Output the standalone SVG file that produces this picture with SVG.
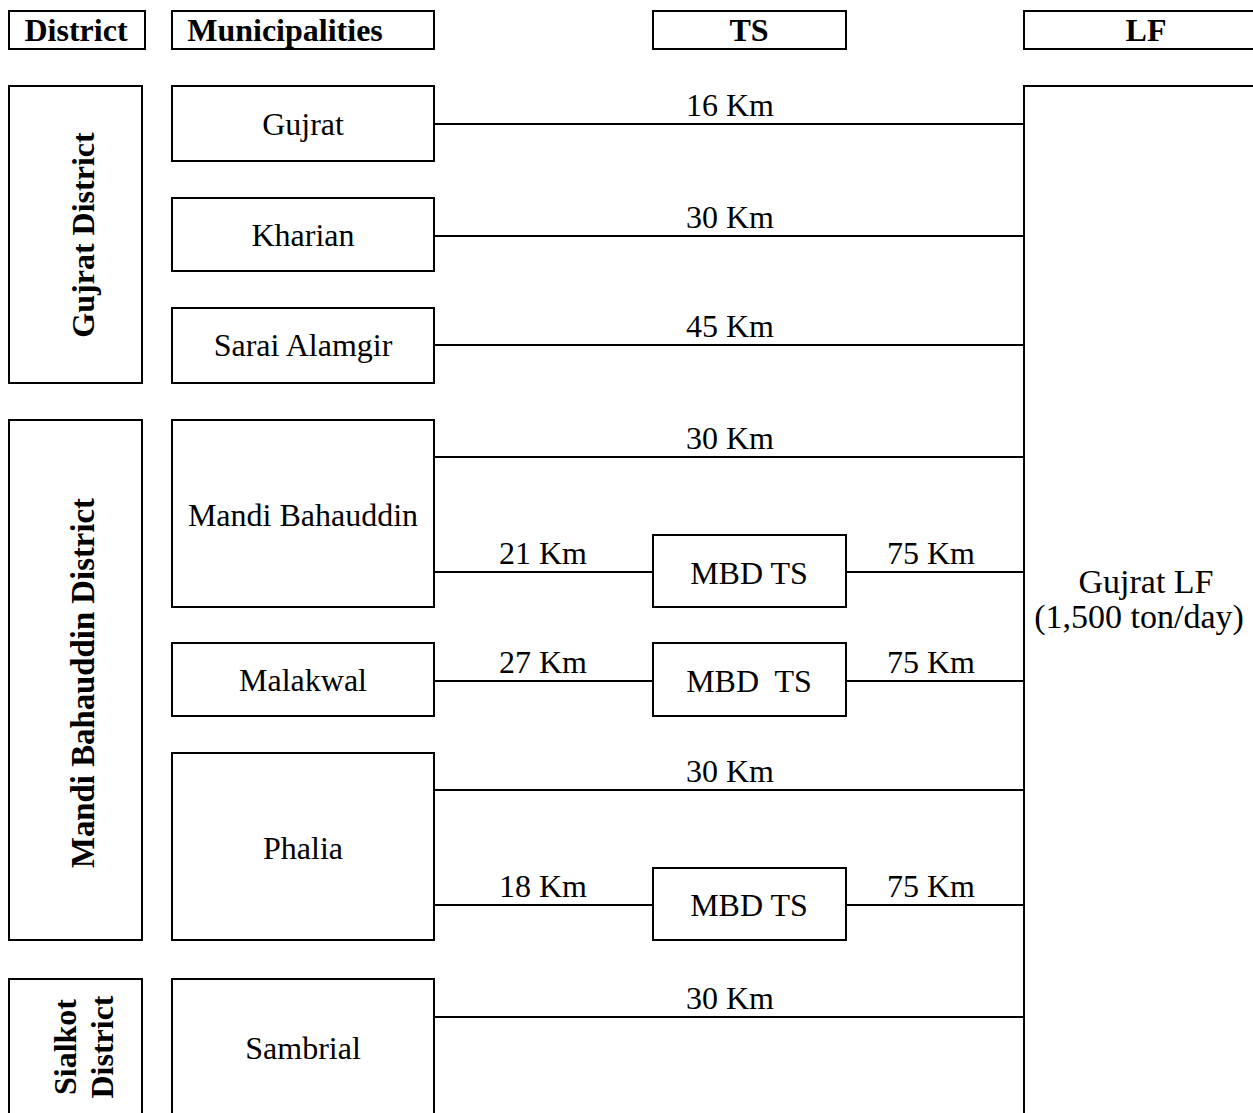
<svg xmlns="http://www.w3.org/2000/svg" width="1253" height="1113" viewBox="0 0 1253 1113">
<style>
rect{fill:#fff;stroke:#000;stroke-width:2}
line{stroke:#000;stroke-width:2}
text{font-family:"Liberation Serif","Times New Roman",serif;font-size:32px;fill:#000;text-anchor:middle}
.b{font-weight:bold}
.lf{font-size:34px}
</style>
<rect width="1253" height="1113" style="stroke:none"/>
<g id="hdr-district"><rect x="9" y="11" width="136" height="38"/><text class="b" x="76" y="41">District</text></g>
<g id="hdr-municipalities"><rect x="172" y="11" width="262" height="38"/><text class="b" x="285" y="41">Municipalities</text></g>
<g id="hdr-ts"><rect x="653" y="11" width="193" height="38"/><text class="b" x="749" y="41">TS</text></g>
<g id="hdr-lf"><rect x="1024" y="11" width="240" height="38"/><text class="b" x="1146" y="41">LF</text></g>

<g id="connectors">
<line x1="434" y1="124" x2="1024" y2="124"/>
<line x1="434" y1="236" x2="1024" y2="236"/>
<line x1="434" y1="345" x2="1024" y2="345"/>
<line x1="434" y1="457" x2="1024" y2="457"/>
<line x1="434" y1="572" x2="653" y2="572"/>
<line x1="846" y1="572" x2="1024" y2="572"/>
<line x1="434" y1="681" x2="653" y2="681"/>
<line x1="846" y1="681" x2="1024" y2="681"/>
<line x1="434" y1="790" x2="1024" y2="790"/>
<line x1="434" y1="905" x2="653" y2="905"/>
<line x1="846" y1="905" x2="1024" y2="905"/>
<line x1="434" y1="1017" x2="1024" y2="1017"/>
<text x="730" y="116">16 Km</text>
<text x="730" y="228">30 Km</text>
<text x="730" y="337">45 Km</text>
<text x="730" y="449">30 Km</text>
<text x="543" y="564">21 Km</text>
<text x="931" y="564">75 Km</text>
<text x="543" y="673">27 Km</text>
<text x="931" y="673">75 Km</text>
<text x="730" y="782">30 Km</text>
<text x="543" y="897">18 Km</text>
<text x="931" y="897">75 Km</text>
<text x="730" y="1009">30 Km</text>
</g>

<g id="gujrat-district"><rect x="9" y="86" width="133" height="297"/><text class="b" transform="translate(94,235) rotate(-90)">Gujrat District</text></g>
<g id="mbd-district"><rect x="9" y="420" width="133" height="520"/><text class="b" transform="translate(94,683) rotate(-90)" style="font-size:32.8px">Mandi Bahauddin District</text></g>
<g id="sialkot-district"><rect x="9" y="979" width="133" height="150"/><text class="b" transform="translate(76,1047) rotate(-90)">Sialkot</text><text class="b" transform="translate(113,1047) rotate(-90)">District</text></g>

<g id="gujrat"><rect x="172" y="86" width="262" height="75"/><text x="303" y="135">Gujrat</text></g>
<g id="kharian"><rect x="172" y="198" width="262" height="73"/><text x="303" y="246">Kharian</text></g>
<g id="sarai-alamgir"><rect x="172" y="308" width="262" height="75"/><text x="303" y="356">Sarai Alamgir</text></g>
<g id="mandi-bahauddin"><rect x="172" y="420" width="262" height="187"/><text x="303" y="526">Mandi Bahauddin</text></g>
<g id="malakwal"><rect x="172" y="643" width="262" height="73"/><text x="303" y="691">Malakwal</text></g>
<g id="phalia"><rect x="172" y="753" width="262" height="187"/><text x="303" y="859">Phalia</text></g>
<g id="sambrial"><rect x="172" y="979" width="262" height="150"/><text x="303" y="1059">Sambrial</text></g>

<g id="mbd-ts-1"><rect x="653" y="535" width="193" height="72"/><text x="749" y="584">MBD TS</text></g>
<g id="mbd-ts-2"><rect x="653" y="643" width="193" height="73"/><text x="749" y="692" xml:space="preserve">MBD  TS</text></g>
<g id="mbd-ts-3"><rect x="653" y="868" width="193" height="72"/><text x="749" y="916">MBD TS</text></g>

<g id="gujrat-lf"><rect x="1024" y="86" width="240" height="1050"/><text class="lf" x="1146" y="593">Gujrat LF</text><text class="lf" x="1139" y="628">(1,500 ton/day)</text></g>
</svg>
